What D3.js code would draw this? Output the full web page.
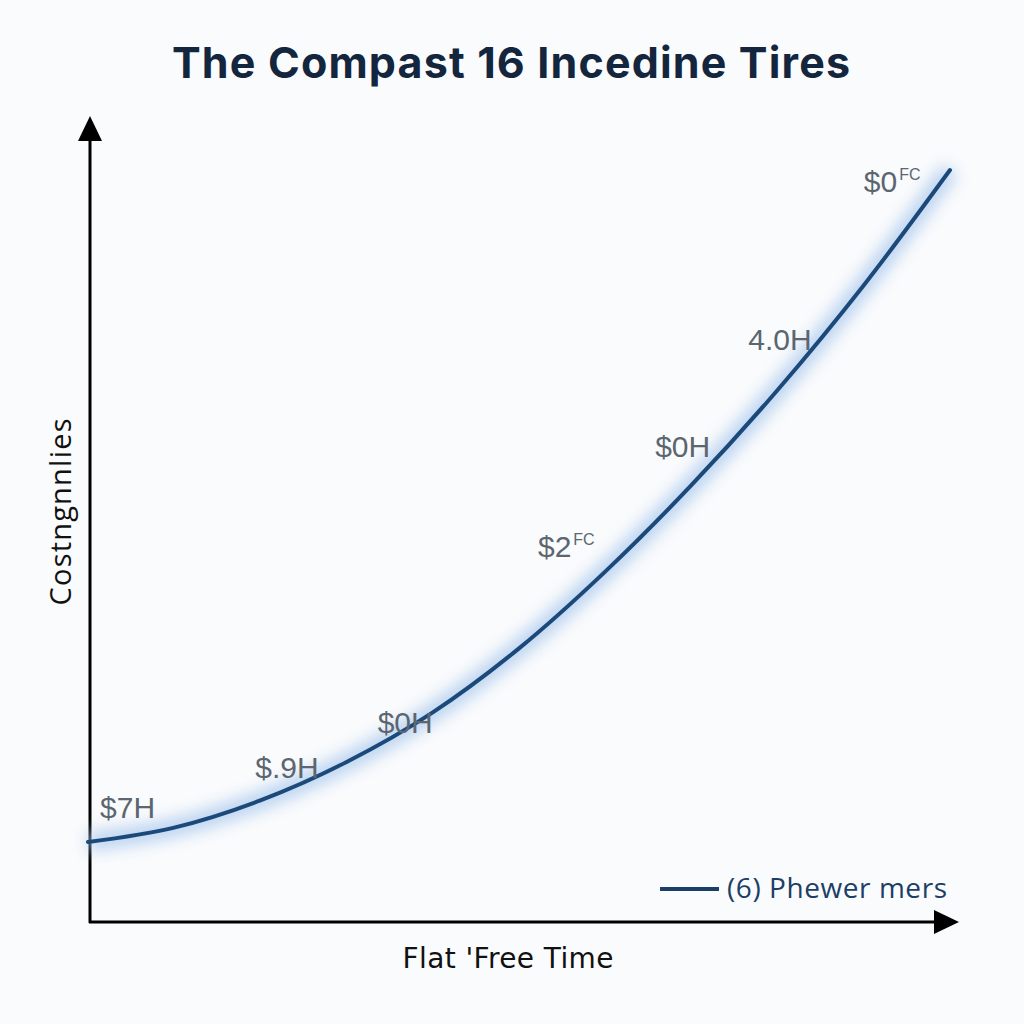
<!DOCTYPE html>
<html><head><meta charset="utf-8">
<script src="https://cdn.jsdelivr.net/npm/d3@7/dist/d3.min.js"></script>
<style>html,body{margin:0;padding:0;background:#fafbfc;}svg{display:block;}</style>
</head><body>
<script>
// ---- data ----
const times = [0,1,2,3,4,5,6,7,8,9,10];
const values = [10,11.8,15.2,20,26.2,34.2,43.8,54.6,66.5,79.6,94];
const labelTexts = ["$7H","$.9H","$0H","$2","$0H","4.0H","$0"];
const labelSups  = ["","","","FC","","","FC"];
const labelTimes = [0.14,1.94,3.36,5.22,6.58,7.66,9.0];
const labelValues = [13,18,23.6,45.6,58.1,71.5,91.25];
const title = "The Compast 16 Incedine Tires";
const xTitle = "Flat 'Free Time";
const yTitle = "Costngnnlies";
const legendText = "(6) Phewer mers";

const W=1024,H=1024;
const svg=d3.select("body").append("svg").attr("width",W).attr("height",H);
svg.append("rect").attr("width",W).attr("height",H).attr("fill","#fafbfc");

const defs=svg.append("defs");
defs.append("filter").attr("id","glow").attr("x","-20%").attr("y","-20%").attr("width","140%").attr("height","140%")
  .append("feGaussianBlur").attr("stdDeviation",8);

const x=d3.scaleLinear().domain([0,10]).range([88,950]);
const y=d3.scaleLinear().domain([0,100]).range([922,122]);

// title
svg.append("text").attr("x",511).attr("y",78).attr("text-anchor","middle")
  .attr("font-family","Inter, 'Open Sans', sans-serif").attr("font-weight",700).attr("font-size",43)
  .attr("textLength",678).attr("lengthAdjust","spacing")
  .attr("fill","#14263d").text(title);

// axes
const ox=x(0)+2, oy=y(0);
svg.append("line").attr("x1",ox).attr("y1",oy+1).attr("x2",ox).attr("y2",138).attr("stroke","#000").attr("stroke-width",3);
svg.append("path").attr("d",`M${ox},116 L${ox-12},141 L${ox+12},141 Z`).attr("fill","#000");
svg.append("line").attr("x1",ox-1).attr("y1",oy).attr("x2",938).attr("y2",oy).attr("stroke","#000").attr("stroke-width",3);
svg.append("path").attr("d",`M959,${oy} L934,${oy-12} L934,${oy+12} Z`).attr("fill","#000");

// line
const pts=times.map((t,i)=>[t,values[i]]);
const line=d3.line().x(d=>x(d[0])).y(d=>y(d[1])).curve(d3.curveMonotoneX);
svg.append("path").attr("d",line(pts)).attr("fill","none").attr("stroke","#b4cff0").attr("stroke-width",18)
  .attr("filter","url(#glow)").attr("opacity",0.95);
svg.append("path").attr("d",line(pts)).attr("fill","none").attr("stroke","#1b4a7a").attr("stroke-width",4).attr("stroke-linecap","round");

// labels
labelTexts.forEach((t,i)=>{
  const tx=svg.append("text").attr("x",x(labelTimes[i])).attr("y",y(labelValues[i]))
    .attr("font-family","'Liberation Sans', Arial, sans-serif").attr("font-size",30).attr("fill","#5b6670").text(t);
  if(labelSups[i]) tx.append("tspan").attr("dx",2).attr("dy",-12).attr("font-size",16).text(labelSups[i]);
});

// axis titles
svg.append("text").attr("x",508).attr("y",968).attr("text-anchor","middle")
  .attr("font-family","'DejaVu Sans', sans-serif").attr("font-size",28).attr("fill","#111")
  .attr("textLength",211).text(xTitle);
svg.append("text").attr("transform","translate(71,512) rotate(-90)").attr("text-anchor","middle")
  .attr("font-family","'Open Sans', sans-serif").attr("font-size",29).attr("fill","#111")
  .attr("textLength",187).text(yTitle);

// legend
svg.append("line").attr("x1",660).attr("x2",719).attr("y1",889).attr("y2",889).attr("stroke","#1b3f66").attr("stroke-width",4);
svg.append("text").attr("x",727).attr("y",898).attr("font-family","'Open Sans', sans-serif").attr("font-size",28)
  .attr("textLength",220).attr("fill","#1b3f66").text(legendText);
</script>
</body></html>
